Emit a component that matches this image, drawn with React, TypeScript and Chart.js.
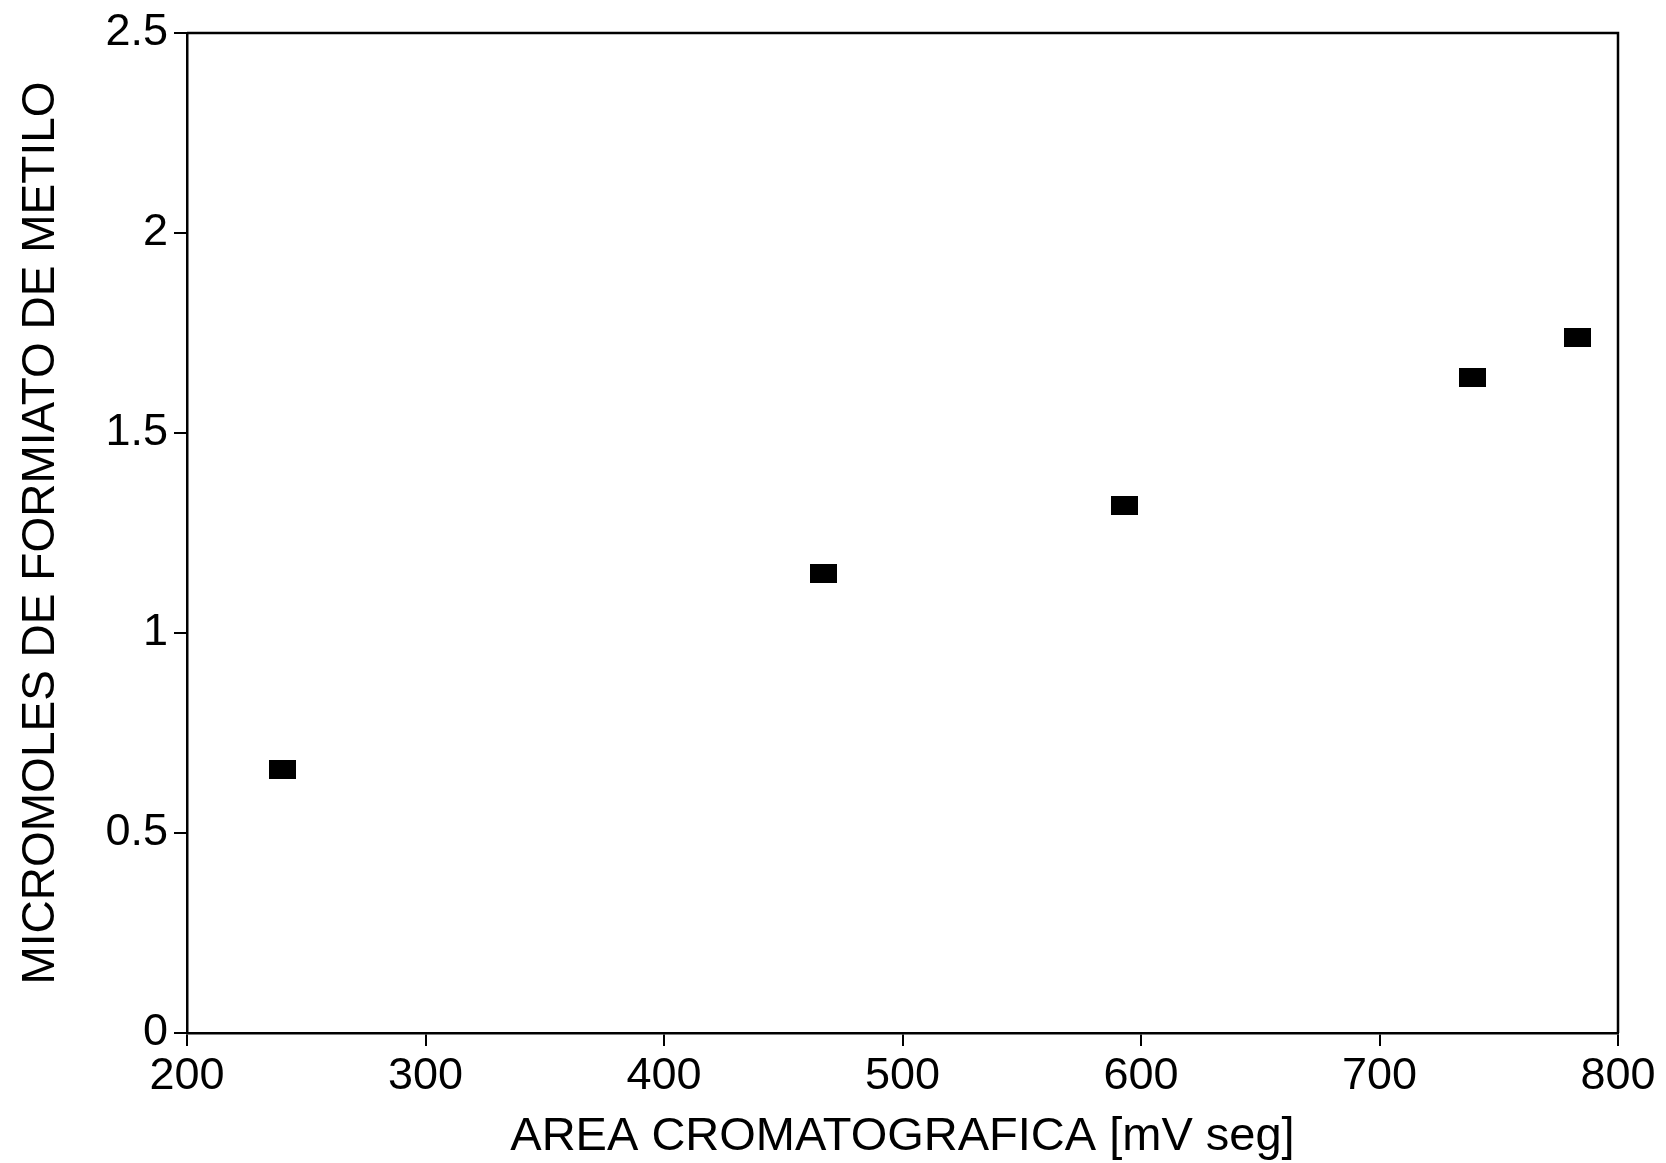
import React, { useEffect, useRef } from "react";
import { Chart, registerables } from "chart.js";

Chart.register(...registerables);

const areaValues = [240, 467, 593, 739, 783];
const micromolesValues = [0.66, 1.15, 1.32, 1.64, 1.74];
const xTitle = "AREA CROMATOGRAFICA [mV seg]";
const yTitle = "MICROMOLES DE FORMIATO DE METILO";
const xMin = 200;
const xMax = 800;
const xStep = 100;
const yMin = 0;
const yMax = 2.5;
const yStep = 0.5;

const FONT = "'Liberation Sans', Arial, Helvetica, sans-serif";

const boxPlugin = {
  id: "frameBox",
  afterDraw(chart: any) {
    const { ctx, chartArea } = chart;
    ctx.save();
    ctx.strokeStyle = "#000";
    ctx.lineWidth = 2.5;
    ctx.beginPath();
    ctx.moveTo(chartArea.left, chartArea.top);
    ctx.lineTo(chartArea.right, chartArea.top);
    ctx.lineTo(chartArea.right, chartArea.bottom);
    ctx.stroke();
    ctx.restore();
  },
};

export default function App() {
  const canvasRef = useRef<HTMLCanvasElement | null>(null);

  useEffect(() => {
    const canvas = canvasRef.current;
    if (!canvas) return;
    const marker = document.createElement("canvas");
    marker.width = 27;
    marker.height = 19;
    const mctx = marker.getContext("2d");
    if (mctx) {
      mctx.fillStyle = "#000";
      mctx.fillRect(0, 0, 27, 19);
    }

    const chart = new Chart(canvas, {
      type: "scatter",
      data: {
        datasets: [
          {
            data: areaValues.map((x, i) => ({ x, y: micromolesValues[i] })),
            pointStyle: marker as any,
            backgroundColor: "#000",
            borderColor: "#000",
          },
        ],
      },
      options: {
        responsive: false,
        animation: false,
        devicePixelRatio: 1,
        layout: { padding: { top: 32, right: 48, left: 0, bottom: 0 } },
        plugins: { legend: { display: false }, tooltip: { enabled: false } },
        scales: {
          x: {
            type: "linear",
            min: xMin,
            max: xMax,
            afterFit: (scale: any) => {
              scale.height = 130;
            },
            ticks: {
              stepSize: xStep,
              color: "#000",
              padding: 4,
              maxRotation: 0,
              font: { family: FONT, size: 45 },
            },
            grid: {
              drawOnChartArea: false,
              drawTicks: true,
              tickLength: 13,
              tickColor: "#000",
              lineWidth: 2,
              color: "#000",
            },
            border: { display: true, color: "#000", width: 2.5 },
            title: {
              display: true,
              text: xTitle,
              color: "#000",
              font: { family: FONT, size: 47, lineHeight: 1.1 },
              padding: { top: 0, bottom: 0 },
            },
          },
          y: {
            type: "linear",
            min: yMin,
            max: yMax,
            afterFit: (scale: any) => {
              scale.width = 187;
            },
            ticks: {
              stepSize: yStep,
              color: "#000",
              padding: 6,
              font: { family: FONT, size: 45 },
              callback: (v: any) => String(Number(v)),
            },
            grid: {
              drawOnChartArea: false,
              drawTicks: true,
              tickLength: 13,
              tickColor: "#000",
              lineWidth: 2,
              color: "#000",
            },
            border: { display: true, color: "#000", width: 2.5 },
            title: {
              display: true,
              text: yTitle,
              color: "#000",
              font: { family: FONT, size: 46 },
              padding: { top: 14, bottom: 0 },
            },
          },
        },
      },
      plugins: [boxPlugin],
    });
    return () => chart.destroy();
  }, []);

  return (
    <div style={{ position: "fixed", left: 0, top: 0, width: 1666, height: 1163, background: "#fff" }}>
      <canvas ref={canvasRef} width={1666} height={1163} style={{ width: 1666, height: 1163, display: "block" }} />
    </div>
  );
}
